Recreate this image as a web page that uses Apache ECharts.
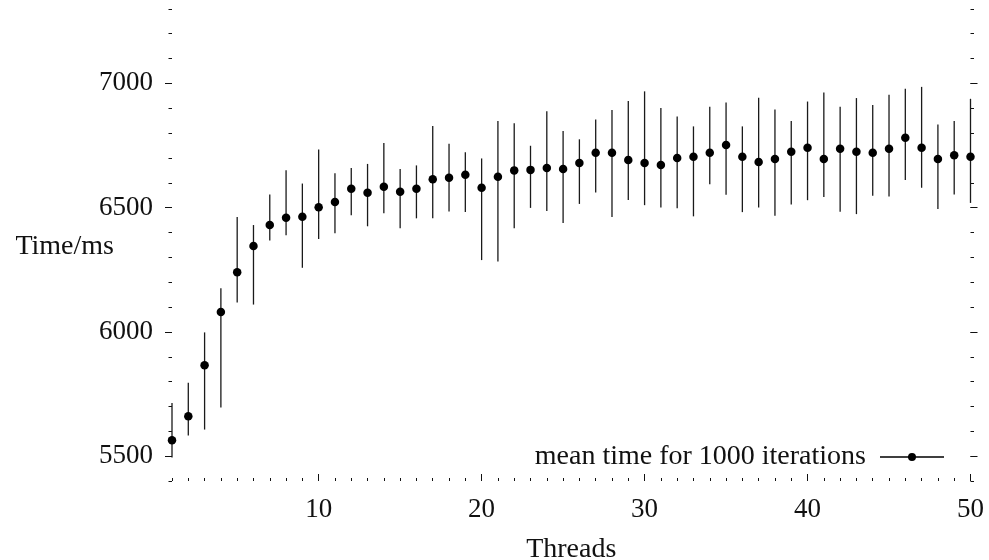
<!DOCTYPE html>
<html>
<head>
<meta charset="utf-8">
<script src="https://cdn.jsdelivr.net/npm/echarts@6/dist/echarts.min.js"></script>
<style>
  html, body { margin: 0; padding: 0; background: #fff; }
  #chart { width: 989px; height: 560px; }
</style>
</head>
<body>
<div id="chart"></div>
<script>
const threads = [1, 2, 3, 4, 5, 6, 7, 8, 9, 10, 11, 12, 13, 14, 15, 16, 17, 18, 19, 20,
  21, 22, 23, 24, 25, 26, 27, 28, 29, 30, 31, 32, 33, 34, 35, 36, 37, 38, 39, 40,
  41, 42, 43, 44, 45, 46, 47, 48, 49, 50]
const meanTime = [5564, 5661, 5866, 6080, 6240, 6346, 6430, 6459, 6463, 6502,
  6523, 6576, 6560, 6584, 6564, 6576, 6614, 6620, 6632, 6580,
  6624, 6650, 6652, 6660, 6656, 6680, 6721, 6721, 6692, 6680,
  6672, 6700, 6705, 6721, 6752, 6705, 6684, 6696, 6725, 6741,
  6696, 6737, 6725, 6721, 6737, 6781, 6741, 6696, 6711, 6705]
const maxTime = [5714, 5795, 5998, 6176, 6462, 6430, 6553, 6651, 6597, 6734,
  6638, 6660, 6676, 6760, 6656, 6670, 6829, 6757, 6723, 6698,
  6849, 6840, 6749, 6888, 6808, 6775, 6855, 6893, 6929, 6968,
  6901, 6867, 6827, 6906, 6923, 6827, 6942, 6895, 6849, 6927,
  6963, 6906, 6941, 6913, 6954, 6978, 6986, 6835, 6849, 6938]
const minTime = [5495, 5583, 5607, 5696, 6118, 6110, 6368, 6389, 6258, 6374,
  6397, 6469, 6425, 6477, 6417, 6457, 6457, 6485, 6482, 6289,
  6283, 6417, 6499, 6487, 6438, 6515, 6561, 6462, 6531, 6510,
  6501, 6498, 6465, 6594, 6552, 6482, 6501, 6467, 6513, 6530,
  6543, 6483, 6474, 6548, 6545, 6611, 6580, 6495, 6553, 6519]
const xMajorTicks = [10, 20, 30, 40, 50]
const yMajorTicks = [5500, 6000, 6500, 7000]

const font = '"Liberation Serif", "DejaVu Serif", serif'
const ink = '#111'

const chart = echarts.init(document.getElementById('chart'), null, { renderer: 'canvas' })

// minor ticks every unit / every 100 ms, major ones on a twin axis
function xAxisBase(extra) {
  return Object.assign({
    type: 'value',
    min: 1,
    max: 50,
    position: 'bottom',
    axisLine: { show: false },
    splitLine: { show: false },
  }, extra)
}
function yAxisBase(extra) {
  return Object.assign({
    type: 'value',
    min: 5400,
    max: 7400,
    axisLine: { show: false },
    splitLine: { show: false },
  }, extra)
}

const option = {
  animation: false,
  backgroundColor: '#fff',
  grid: { left: 172, right: 18.5, top: -16, bottom: 79, outerBoundsMode: 'none', containLabel: false },
  legend: {
    data: ['mean time for 1000 iterations'],
    right: 40,
    top: 438,
    align: 'right',
    itemWidth: 64,
    itemHeight: 8,
    icon: 'path://M0,3.3 L64,3.3 L64,4.7 L0,4.7 Z M28,4 A4,4 0 1,1 36,4 A4,4 0 1,1 28,4 Z',
    textStyle: { fontFamily: font, fontSize: 28, color: ink, padding: [0, 9, 0, 0] },
  },
  xAxis: [
    xAxisBase({
      interval: 1,
      axisTick: { inside: true, length: 3, lineStyle: { color: ink, width: 1 } },
      axisLabel: { show: false },
    }),
    xAxisBase({
      interval: 1,
      name: 'Threads',
      nameLocation: 'middle',
      nameGap: 55,
      nameMoveOverlap: false,
      nameTextStyle: { fontFamily: font, fontSize: 28, color: ink },
      axisTick: { inside: true, length: 7, customValues: xMajorTicks, lineStyle: { color: ink, width: 1 } },
      axisLabel: { customValues: xMajorTicks, fontFamily: font, fontSize: 27, color: ink, margin: 15 },
    }),
  ],
  yAxis: [
    yAxisBase({
      position: 'left',
      interval: 100,
      axisTick: { length: 3.5, lineStyle: { color: ink, width: 1 } },
      axisLabel: { show: false },
    }),
    yAxisBase({
      position: 'left',
      interval: 100,
      name: 'Time/ms',
      nameLocation: 'middle',
      nameRotate: 0,
      nameGap: 58,
      nameMoveOverlap: false,
      nameTextStyle: { fontFamily: font, fontSize: 28, color: ink, verticalAlign: 'top' },
      axisTick: { length: 7, customValues: yMajorTicks, lineStyle: { color: ink, width: 1 } },
      axisLabel: {
        customValues: yMajorTicks,
        formatter: (v) => String(v),
        fontFamily: font, fontSize: 27, color: ink, margin: 19,
      },
    }),
    yAxisBase({
      position: 'right',
      interval: 100,
      axisTick: { length: 3.5, lineStyle: { color: ink, width: 1 } },
      axisLabel: { show: false },
    }),
    yAxisBase({
      position: 'right',
      interval: 100,
      axisTick: { length: 7, customValues: yMajorTicks, lineStyle: { color: ink, width: 1 } },
      axisLabel: { show: false },
    }),
  ],
  series: [
    {
      name: 'error',
      type: 'custom',
      xAxisIndex: 0,
      yAxisIndex: 0,
      clip: false,
      silent: true,
      data: threads.map((t, i) => [t, minTime[i], maxTime[i]]),
      renderItem: (params, api) => {
        const lo = api.coord([api.value(0), api.value(1)])
        const hi = api.coord([api.value(0), api.value(2)])
        return {
          type: 'line',
          shape: { x1: lo[0], y1: lo[1], x2: hi[0], y2: hi[1] },
          style: { stroke: '#1a1a1a', lineWidth: 1.3 },
        }
      },
    },
    {
      name: 'mean time for 1000 iterations',
      type: 'scatter',
      xAxisIndex: 0,
      yAxisIndex: 0,
      clip: false,
      symbol: 'circle',
      symbolSize: 8.5,
      itemStyle: { color: '#000', opacity: 1 },
      data: threads.map((t, i) => [t, meanTime[i]]),
    },
  ],
}

chart.setOption(option)
</script>
</body>
</html>
